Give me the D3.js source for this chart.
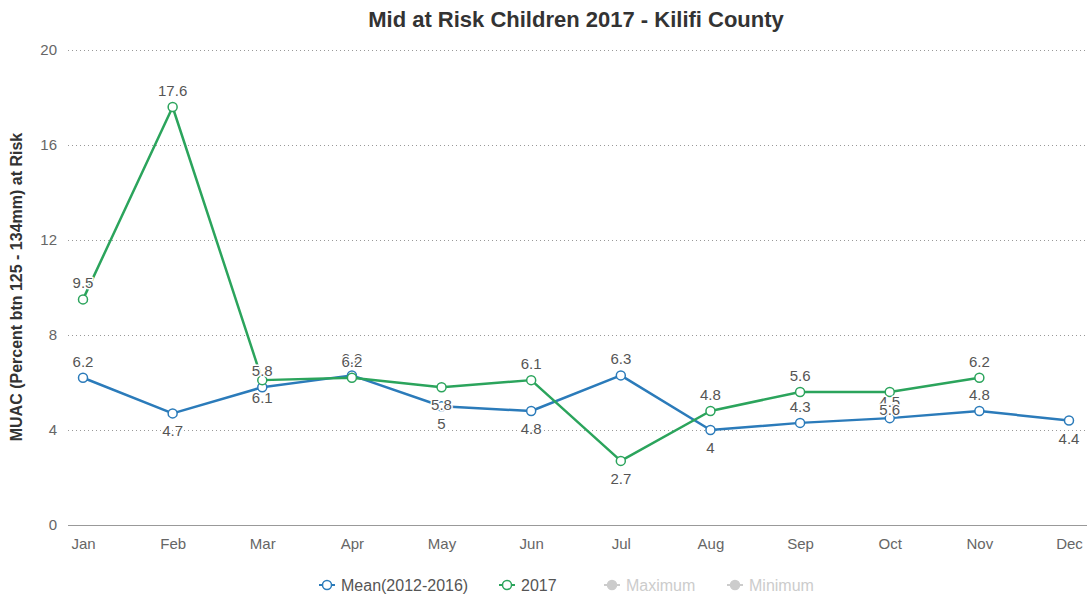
<!DOCTYPE html>
<html>
<head>
<meta charset="utf-8">
<script src="https://cdn.jsdelivr.net/npm/d3@7"></script>
<style>
  body { margin: 0; background: #fff; font-family: "Liberation Sans", Arial, sans-serif; }
  svg { display: block; }
</style>
</head>
<body>
<svg id="chart" width="1089" height="597"></svg>
<script>
const months = ["Jan", "Feb", "Mar", "Apr", "May", "Jun", "Jul", "Aug", "Sep", "Oct", "Nov", "Dec"];
const meanValues = [6.2, 4.7, 5.8, 6.3, 5.0, 4.8, 6.3, 4.0, 4.3, 4.5, 4.8, 4.4];
const values2017 = [9.5, 17.6, 6.1, 6.2, 5.8, 6.1, 2.7, 4.8, 5.6, 5.6, 6.2, null];
const yTicks = [0, 4, 8, 12, 16, 20];
// which side of the point each value label sits on
const meanLabelSide = ["up", "down", "up", "up", "down", "down", "up", "down", "up", "up", "up", "down"];
const labelSide2017 = ["up", "up", "down", "up", "down", "up", "down", "up", "up", "down", "up", null];
const legendItems = [
  { name: "Mean(2012-2016)", color: "#2b7bba", active: true },
  { name: "2017", color: "#2ba45c", active: true },
  { name: "Maximum", color: "#cccccc", active: false },
  { name: "Minimum", color: "#cccccc", active: false }
];

const svg = d3.select("#chart");
const plotLeft = 68, plotRight = 1087, plotTop = 50, plotBottom = 525;

const x = d3.scalePoint().domain(months).range([83, 1069]);
const y = d3.scaleLinear().domain([0, 20]).range([plotBottom, plotTop]);

// title
svg.append("text")
  .attr("x", 576).attr("y", 27)
  .attr("text-anchor", "middle")
  .attr("font-size", 22).attr("font-weight", "bold").attr("fill", "#333")
  .text("Mid at Risk Children 2017 - Kilifi County");

// y axis title
svg.append("text")
  .attr("transform", "translate(22,287) rotate(-90)")
  .attr("text-anchor", "middle")
  .attr("font-size", 16).attr("font-weight", "bold").attr("fill", "#333")
  .text("MUAC (Percent btn 125 - 134mm) at Risk");

// horizontal grid + y labels
const yAxis = d3.axisLeft(y).tickValues(yTicks).tickSize(-(plotRight - plotLeft)).tickPadding(11);
const gy = svg.append("g").attr("transform", `translate(${plotLeft},0)`).call(yAxis);
gy.select(".domain").remove();
gy.selectAll(".tick line")
  .attr("stroke", "#999").attr("stroke-width", 1).attr("stroke-dasharray", "1,3");
gy.selectAll(".tick text")
  .attr("font-size", 15).attr("fill", "#666").attr("font-family", "Liberation Sans, Arial, sans-serif");
gy.selectAll(".tick").filter(d => d === 0).select("line")
  .attr("stroke", "#999").attr("stroke-dasharray", null);

// x axis
const xAxis = d3.axisBottom(x).tickSize(0).tickPadding(13);
const gx = svg.append("g").attr("transform", `translate(0,${plotBottom})`).call(xAxis);
gx.select(".domain").remove();
gx.selectAll(".tick text")
  .attr("font-size", 15).attr("fill", "#666").attr("font-family", "Liberation Sans, Arial, sans-serif");

function drawSeries(values, sides, color) {
  const pts = months.map((m, i) => ({ m, v: values[i], side: sides[i] })).filter(d => d.v !== null);
  const line = d3.line().x(d => x(d.m)).y(d => y(d.v));
  svg.append("path").datum(pts)
    .attr("d", line).attr("fill", "none")
    .attr("stroke", color).attr("stroke-width", 2.5).attr("stroke-linejoin", "round");
  svg.append("g").selectAll("circle").data(pts).join("circle")
    .attr("cx", d => x(d.m)).attr("cy", d => y(d.v)).attr("r", 4.5)
    .attr("fill", "#fff").attr("stroke", color).attr("stroke-width", 1.5);
  return pts;
}

const meanPts = drawSeries(meanValues, meanLabelSide, "#2b7bba");
const pts2017 = drawSeries(values2017, labelSide2017, "#2ba45c");

// value labels
const labelG = svg.append("g");
[...meanPts, ...pts2017].forEach(d => {
  const ty = d.side === "up" ? y(d.v) - 11 : y(d.v) + 23;
  labelG.append("text")
    .attr("x", x(d.m)).attr("y", ty)
    .attr("text-anchor", "middle")
    .attr("font-size", 15).attr("fill", "#555")
    .attr("stroke", "#fff").attr("stroke-width", 3).attr("stroke-linejoin", "round")
    .attr("paint-order", "stroke")
    .text(d3.format("~g")(d.v));
});

// legend
const legendPos = [327, 507, 612, 735];
const lg = svg.append("g").attr("transform", "translate(0,585)");
legendItems.forEach((item, i) => {
  const g = lg.append("g").attr("transform", `translate(${legendPos[i]},0)`);
  g.append("line").attr("x1", -8).attr("x2", 8).attr("y1", 0).attr("y2", 0)
    .attr("stroke", item.color).attr("stroke-width", 2);
  g.append("circle").attr("cx", 0).attr("cy", 0).attr("r", 4.5)
    .attr("fill", item.active ? "#fff" : item.color).attr("stroke", item.color).attr("stroke-width", 1.5);
  g.append("text").attr("x", 14).attr("y", 5.5)
    .attr("font-size", 16).attr("fill", item.active ? "#555" : "#ccc")
    .text(item.name);
});
</script>
</body>
</html>
